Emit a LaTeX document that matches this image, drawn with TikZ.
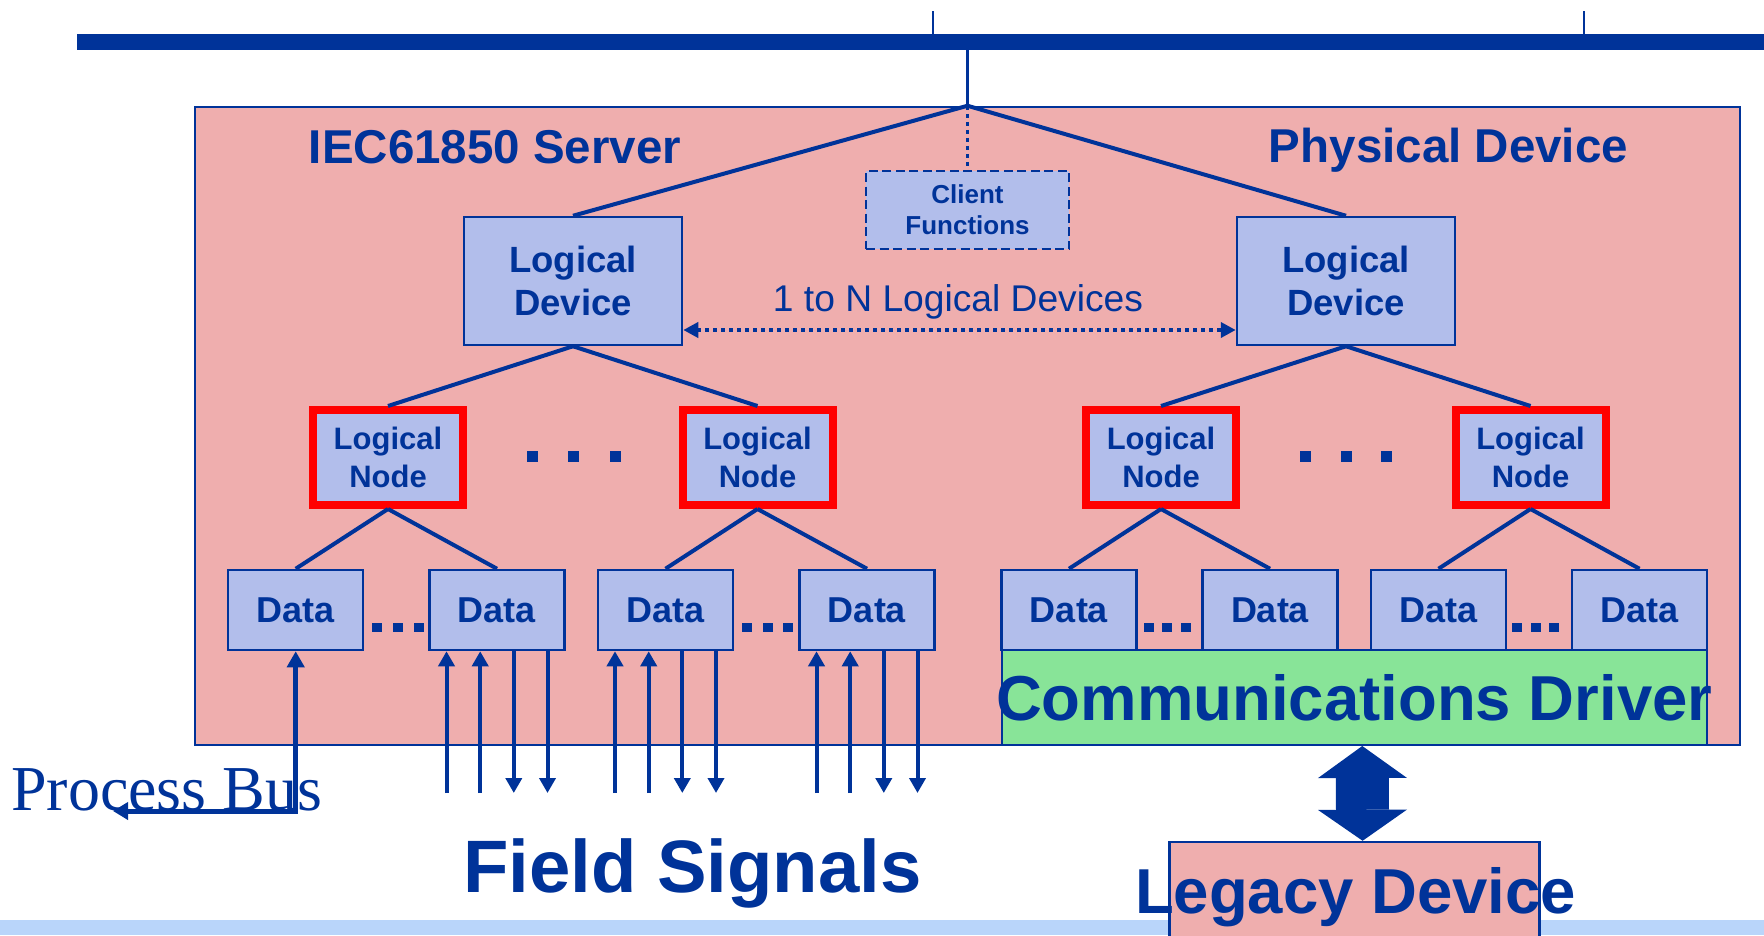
\documentclass[tikz,border=0pt]{standalone}
\usepackage{fontspec}
\setmainfont{Liberation Sans}
\newfontfamily\serifff{Liberation Serif}
\usetikzlibrary{arrows.meta}
\definecolor{dblue}{HTML}{003399}
\definecolor{pinkbg}{HTML}{EFAEAE}
\definecolor{lblue}{HTML}{B2BEEB}
\definecolor{dgreen}{HTML}{88E498}
\definecolor{bandc}{HTML}{B9D5FA}
\definecolor{lnred}{HTML}{FF0000}
\begin{document}
\begin{tikzpicture}[x=1pt,y=-1pt,
  box/.style={draw=dblue,line width=2.5pt,fill=lblue,inner sep=0pt,align=center,text=dblue},
  ldbox/.style={box,minimum width=218pt,minimum height=128pt,font=\fontsize{36.5}{43}\selectfont\bfseries},
  lnbox/.style={box,draw=lnred,line width=8pt,minimum width=150pt,minimum height=95pt,font=\fontsize{31}{38}\selectfont\bfseries},
  databox/.style={box,minimum width=135pt,minimum height=80pt,font=\fontsize{36}{43}\selectfont\bfseries},
  conn/.style={draw=dblue,line width=4pt},
  fs/.style={draw=dblue,line width=4pt},
  utip/.style={-{Triangle[length=15pt,width=16pt]}},
  lbl/.style={anchor=base,text=dblue,inner sep=0pt},
  sq/.style={fill=dblue},
]
\useasboundingbox (0,0) rectangle (1764,935);
\fill[white] (0,0) rectangle (1764,935);
\fill[bandc] (0,920) rectangle (1764,935);

% bus
\node[fill=dblue,inner sep=0pt,minimum width=1687.5pt,minimum height=16pt] (bus) at (920.25,42) {};
\coordinate (t1) at (933,11);
\coordinate (t2) at (1584,11);
\draw[dblue,line width=2.5pt] (t1) -- (t1 |- bus.north);
\draw[dblue,line width=2.5pt] (t2) -- (t2 |- bus.north);

% server box
\node[draw=dblue,line width=2.5pt,fill=pinkbg,minimum width=1545pt,minimum height=638pt,inner sep=0pt] (srv) at (967.5,426) {};
\draw[dblue,line width=3pt] (srv.north |- bus.south) -- (srv.north);

\node[lbl,font=\fontsize{47.5}{56}\selectfont\bfseries] (srvt) at (495,163) {IEC61850 Server};
\node[lbl,font=\fontsize{47.5}{56}\selectfont\bfseries] (pdt) at (1448.5,162) {Physical Device};

% client functions
\node[box,line width=2.5pt,dash pattern=on 9pt off 4.5pt,minimum width=203pt,minimum height=78pt,font=\fontsize{26}{31}\selectfont\bfseries] (cf) at (967.5,210) {Client\\Functions};
\draw[dblue,line width=3pt,dash pattern=on 4pt off 4pt] (srv.north) -- (cf.north);

% logical devices
\node[ldbox] (ldl) at (573,281) {Logical\\Device};
\node[ldbox] (ldr) at (1346,281) {Logical\\Device};
\draw[conn] (srv.north) -- (ldl.north);
\draw[conn] (srv.north) -- (ldr.north);

\node[lbl,font=\fontsize{37.2}{43}\selectfont] (lton) at (958,311) {1 to N Logical Devices};
\draw[dblue,line width=4pt,dash pattern=on 4pt off 4pt,{Triangle[length=15pt,width=15pt]}-{Triangle[length=15pt,width=15pt]}] ([yshift=-49pt]ldl.east) -- ([yshift=-49pt]ldr.west);

% logical nodes
\node[lnbox] (ln1) at (388,457.5) {Logical\\Node};
\node[lnbox] (ln2) at (757.5,457.5) {Logical\\Node};
\node[lnbox] (ln3) at (1161,457.5) {Logical\\Node};
\node[lnbox] (ln4) at (1530.5,457.5) {Logical\\Node};
\draw[conn] (ldl.south) -- (ln1.north);
\draw[conn] (ldl.south) -- (ln2.north);
\draw[conn] (ldr.south) -- (ln3.north);
\draw[conn] (ldr.south) -- (ln4.north);
\foreach \cx in {532,573,615,1305,1346,1386.5}
  \fill[sq] (\cx-5.5,451) rectangle (\cx+5.5,462);

% data
\foreach \n/\cx in {1/295.7,2/497,3/665.5,4/867,5/1069,6/1270,7/1438.5,8/1639.5}
  \node[databox] (d\n) at (\cx,610) {Data};
\draw[conn] (ln1.south) -- (d1.north);
\draw[conn] (ln1.south) -- (d2.north);
\draw[conn] (ln2.south) -- (d3.north);
\draw[conn] (ln2.south) -- (d4.north);
\draw[conn] (ln3.south) -- (d5.north);
\draw[conn] (ln3.south) -- (d6.north);
\draw[conn] (ln4.south) -- (d7.north);
\draw[conn] (ln4.south) -- (d8.north);
\foreach \cx in {377,398,419,746.5,767.5,788,1148.5,1167,1185.5,1517,1535.5,1554}
  \fill[sq] (\cx-5,623) rectangle (\cx+5,632);

% communications driver
\node[draw=dblue,line width=2pt,fill=dgreen,minimum width=705.5pt,minimum height=95pt,inner sep=0pt,text=dblue,font=\fontsize{63.5}{70}\selectfont\bfseries] (cd) at (1354.25,697.5) {\makebox[0pt]{Communications Driver}};

% legacy device
\node[draw=dblue,line width=2.5pt,fill=pinkbg,minimum width=370pt,minimum height=100pt,inner sep=0pt] (leg) at (1354.6,892) {};
\node[lbl,font=\fontsize{63.5}{70}\selectfont\bfseries] (legt) at (1355.7,913) {Legacy Device};
\draw[dblue,line width=53pt,{Triangle[length=32pt,width=89pt,line width=0pt]}-{Triangle[length=31pt,width=89pt,line width=0pt]}] ([xshift=8pt]cd.south) -- ([xshift=8pt]leg.north);

% field signals
\node[lbl,font=\fontsize{74.3}{80}\selectfont\bfseries] (fst) at (692.5,892) {Field Signals};
\foreach \n/\cx in {2/497,3/665.5,4/867}{
  \foreach \k/\o in {1/-50.5,2/-16.8,3/16.8,4/50.5}{
    \coordinate (f\n\k) at (\cx+\o,793);
  }
  \draw[fs,utip] (f\n1) -- (f\n1 |- d\n.south);
  \draw[fs,utip] (f\n2) -- (f\n2 |- d\n.south);
  \draw[fs,utip] (f\n3 |- d\n.south) -- (f\n3);
  \draw[fs,utip] (f\n4 |- d\n.south) -- (f\n4);
}

% process bus
\node[anchor=base west,inner sep=0pt,text=dblue,font=\serifff\fontsize{64}{70}\selectfont] (pbt) at (11,810) {Process Bus};
\coordinate (pb) at (113,811);
\draw[dblue,line width=5pt,{Triangle[length=15pt,width=17pt]}-{Triangle[length=16pt,width=17pt]}] (pb) -- (pb -| d1.south) -- (d1.south);
\end{tikzpicture}
\end{document}
